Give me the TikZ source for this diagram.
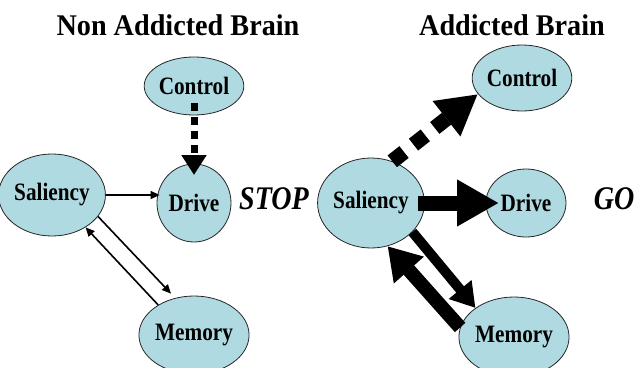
\documentclass[tikz,border=0pt]{standalone}
\usepackage{fontspec}
\setmainfont{Liberation Serif}
\newfontfamily\titlefont[FakeStretch=0.94]{Liberation Serif}
\newfontfamily\labelfont[FakeStretch=0.85]{Liberation Serif}
\usetikzlibrary{arrows.meta}
\usetikzlibrary{shapes}
\usetikzlibrary{positioning}

\definecolor{brainblue}{RGB}{176,218,226}

\tikzset{
  area/.style={ellipse,draw=black!85,line width=0.8pt,fill=brainblue,
    inner sep=0pt,font=\labelfont\fontsize{25}{25}\selectfont\bfseries},
  heading/.style={font=\titlefont\fontsize{30}{30}\selectfont\bfseries},
  verdict/.style={font=\labelfont\fontsize{33}{33}\selectfont\bfseries\itshape},
  weak/.style={-{Triangle[length=9pt,width=8pt]},line width=1.6pt},
  weakdash/.style={-{Triangle[length=20pt,width=24pt]},line width=7pt,
    dash pattern=on 8pt off 6pt},
  strong/.style={-{Triangle[length=42pt,width=44pt]},line width=15pt},
  strongdash/.style={-{Triangle[length=40pt,width=42pt]},line width=15pt,
    dash pattern=on 15pt off 12pt},
  medium/.style={-{Triangle[length=24pt,width=28pt]},line width=10pt},
  back/.style={-{Triangle[length=32pt,width=38pt]},line width=14pt}
}

\begin{document}
\begin{tikzpicture}[x=1pt,y=1pt,on grid,>=Triangle]
  \useasboundingbox (0,0) rectangle (640,-367);

  % non addicted brain
  \node[heading] (ltitle) at (178,-25) {Non Addicted Brain};
  \node[area,minimum width=98pt,minimum height=82pt] (lsal) at (52,-195) {Saliency};
  \node[area,minimum width=74pt,minimum height=78pt] (ldrive)
    [below right=8pt and 142pt of lsal] {Drive};
  \node[area,minimum width=78pt,minimum height=58pt] (lctrl)
    [above=117pt of ldrive] {Control};
  \node[area,minimum width=86pt,minimum height=78pt] (lmem)
    [below=132pt of ldrive] {Memory};
  \node[verdict] (lstop) [above right=4pt and 80pt of ldrive] {STOP};

  \path
    (lctrl.center) edge[weakdash,shorten <=17pt,shorten >=28pt] (ldrive.center)
    (lsal.east) edge[weak,shorten >=-3pt] (lsal.east -| ldrive.west)
    (lsal.-25) edge[weak,shorten >=6pt] (lmem.117)
    (lmem.140) edge[weak] (lsal.-44);

  % addicted brain
  \node[heading] (rtitle) at (512,-25) {Addicted Brain};
  \node[area,minimum width=92pt,minimum height=90pt] (rsal) at (371,-203) {Saliency};
  \node[area,minimum width=80pt,minimum height=68pt] (rdrive)
    [right=155pt of rsal] {Drive};
  \node[area,minimum width=80pt,minimum height=66pt] (rctrl)
    [above left=125pt and 4pt of rdrive] {Control};
  \node[area,minimum width=86pt,minimum height=80pt] (rmem)
    [below left=134pt and 12pt of rdrive] {Memory};
  \node[verdict] (rgo) [above right=4pt and 88pt of rdrive] {GO};

  \path
    (rsal.63) edge[strongdash] (rctrl.200)
    (rsal.center) edge[strong,shorten <=47pt,shorten >=27pt] (rdrive.center)
    (rsal.-35) edge[medium] (rmem.143)
    (rmem.170) edge[back] (rsal.-69);
\end{tikzpicture}
\end{document}
